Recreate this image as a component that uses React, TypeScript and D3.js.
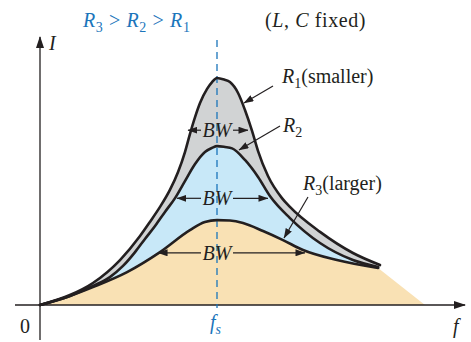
import React from 'react';
import * as d3 from 'd3';

// resonance curves (f in units of fs, I relative to R1 peak)
const r1F = [0, 0.169, 0.299, 0.452, 0.565, 0.621, 0.678, 0.734, 0.78, 0.819, 0.847, 0.876, 0.904, 0.944, 0.972, 1.0,
  1.04, 1.073, 1.119, 1.158, 1.198, 1.232, 1.288, 1.367, 1.412, 1.582, 1.768, 1.921];
const r1I = [0, 0.044, 0.097, 0.198, 0.304, 0.366, 0.432, 0.507, 0.586, 0.674, 0.753, 0.828, 0.89, 0.952, 0.982, 1.0,
  0.993, 0.982, 0.934, 0.859, 0.767, 0.678, 0.568, 0.471, 0.432, 0.322, 0.229, 0.176];

const r2F = [0, 0.169, 0.299, 0.395, 0.469, 0.537, 0.593, 0.65, 0.706, 0.763, 0.819, 0.876, 0.932, 0.972, 1.0,
  1.045, 1.085, 1.158, 1.232, 1.299, 1.412, 1.582, 1.768, 1.91];
const r2I = [0, 0.04, 0.084, 0.123, 0.172, 0.233, 0.291, 0.348, 0.41, 0.471, 0.546, 0.621, 0.674, 0.692, 0.7,
  0.696, 0.69, 0.639, 0.564, 0.48, 0.383, 0.273, 0.198, 0.167];

const r3F = [0, 0.169, 0.299, 0.492, 0.678, 0.847, 0.932, 1.0, 1.073, 1.147, 1.26, 1.373, 1.486, 1.678, 1.91];
const r3I = [0, 0.04, 0.079, 0.145, 0.233, 0.33, 0.366, 0.374, 0.372, 0.361, 0.326, 0.286, 0.242, 0.198, 0.163];

const tanEnd = 2.175;
const fsValue = 1;

// half-power markers: level and left/right ends
const bwLevels = [0.77, 0.47, 0.23];
const bwLeft = [0.836, 0.774, 0.667];
const bwRight = [1.175, 1.288, 1.497];

const ink = '#231f20';
const blue = '#1b75bb';

const App = () => {
  const width = 471;
  const height = 342;

  const x = d3.scaleLinear().domain([0, 2.4]).range([40, 464.8]);
  const y = d3.scaleLinear().domain([0, 1]).range([305, 78]);

  const line = d3.line<[number, number]>()
    .x(d => x(d[0]))
    .y(d => y(d[1]))
    .curve(d3.curveMonotoneX);

  const pts = (f: number[], v: number[]) => f.map((d, i) => [d, v[i]] as [number, number]);
  const p1 = pts(r1F, r1I);
  const p2 = pts(r2F, r2I);
  const p3 = pts(r3F, r3I);

  const closeTo = (p: [number, number][], endF: number) =>
    `${line(p)}L${x(endF)},${y(0)}L${x(0)},${y(0)}Z`;

  const x0 = x(0);
  const yBase = y(0);
  const xs = x(fsValue);

  const serif = '"Liberation Serif", "Times New Roman", serif';

  return (
    <svg width={width} height={height} style={{ position: 'absolute', left: 0, top: 0, background: '#fff' }}
      fontFamily={serif}>
      <defs>
        <marker id="axArrow" viewBox="0 0 12 8" refX="11" refY="4" markerWidth="12" markerHeight="8"
          markerUnits="userSpaceOnUse" orient="auto">
          <path d="M0,0L12,4L0,8Z" fill={ink} />
        </marker>
        <marker id="smArrow" viewBox="0 0 10 7" refX="9.5" refY="3.5" markerWidth="10" markerHeight="7"
          markerUnits="userSpaceOnUse" orient="auto">
          <path d="M0,0L10,3.5L0,7Z" fill={ink} />
        </marker>
      </defs>

      {/* fills */}
      <path d={closeTo(p1, r1F[r1F.length - 1])} fill="#d1d3d4" />
      <path d={closeTo(p2, r2F[r2F.length - 1])} fill="#c8e8f8" />
      <path d={closeTo(p3, tanEnd)} fill="#f9e1b4" />

      {/* axes */}
      <line x1={x0} y1={340} x2={x0} y2={37} stroke={ink} strokeWidth={1.3} markerEnd="url(#axArrow)" />
      <line x1={15} y1={yBase} x2={465} y2={yBase} stroke={ink} strokeWidth={1.3} markerEnd="url(#axArrow)" />

      {/* fs dashed line */}
      <line x1={xs} y1={40} x2={xs} y2={308} stroke={blue} strokeWidth={1.3} strokeDasharray="7,5" />

      {/* curves */}
      {[p3, p2, p1].map((p, i) => (
        <path key={i} d={line(p) || ''} fill="none" stroke={ink} strokeWidth={2.6}
          strokeLinejoin="round" strokeLinecap="round" />
      ))}

      {/* bandwidth markers */}
      {bwLevels.map((lv, i) => {
        const yy = y(lv);
        const cx = xs;
        return (
          <g key={i}>
            <line x1={cx - 16} y1={yy} x2={x(bwLeft[i])} y2={yy} stroke={ink} strokeWidth={1.2} markerEnd="url(#smArrow)" />
            <line x1={cx + 16} y1={yy} x2={x(bwRight[i])} y2={yy} stroke={ink} strokeWidth={1.2} markerEnd="url(#smArrow)" />
            <text x={cx} y={yy + 7} textAnchor="middle" fontSize={20} fontStyle="italic" fill={ink}>BW</text>
          </g>
        );
      })}

      {/* labels with leader arrows */}
      <line x1={273} y1={86} x2={244} y2={103} stroke={ink} strokeWidth={1.2} markerEnd="url(#smArrow)" />
      <text x={282} y={83} fontSize={20} fill={ink}>
        <tspan fontStyle="italic">R</tspan><tspan fontSize={14} dy={5}>1</tspan><tspan dy={-5}>(smaller)</tspan>
      </text>
      <line x1={280} y1={126} x2={239} y2={150} stroke={ink} strokeWidth={1.2} markerEnd="url(#smArrow)" />
      <text x={283} y={132} fontSize={20} fill={ink}>
        <tspan fontStyle="italic">R</tspan><tspan fontSize={14} dy={5}>2</tspan>
      </text>
      <line x1={308} y1={197} x2={284} y2={238} stroke={ink} strokeWidth={1.2} markerEnd="url(#smArrow)" />
      <text x={303} y={190} fontSize={20} fill={ink}>
        <tspan fontStyle="italic">R</tspan><tspan fontSize={14} dy={5}>3</tspan><tspan dy={-5}>(larger)</tspan>
      </text>

      {/* header */}
      <text x={83} y={27} fontSize={20} fill={blue} letterSpacing={0.6}>
        <tspan fontStyle="italic">R</tspan><tspan fontSize={14} dy={5}>3</tspan>
        <tspan dy={-5}> &gt; </tspan><tspan fontStyle="italic">R</tspan><tspan fontSize={14} dy={5}>2</tspan>
        <tspan dy={-5}> &gt; </tspan><tspan fontStyle="italic">R</tspan><tspan fontSize={14} dy={5}>1</tspan>
      </text>
      <text x={265} y={27} fontSize={20} fill={ink} letterSpacing={0.6}>
        (<tspan fontStyle="italic">L</tspan>, <tspan fontStyle="italic">C</tspan> fixed)
      </text>

      {/* axis labels */}
      <text x={49} y={50} fontSize={20} fontStyle="italic" fill={ink}>I</text>
      <text x={453} y={333} fontSize={20} fontStyle="italic" fill={ink}>f</text>
      <text x={20} y={333} fontSize={20} fill={ink}>0</text>
      <text x={xs - 7} y={329} fontSize={20} fontStyle="italic" fill={blue}>
        f<tspan fontSize={14} dy={5}>s</tspan>
      </text>
    </svg>
  );
};

export default App;
